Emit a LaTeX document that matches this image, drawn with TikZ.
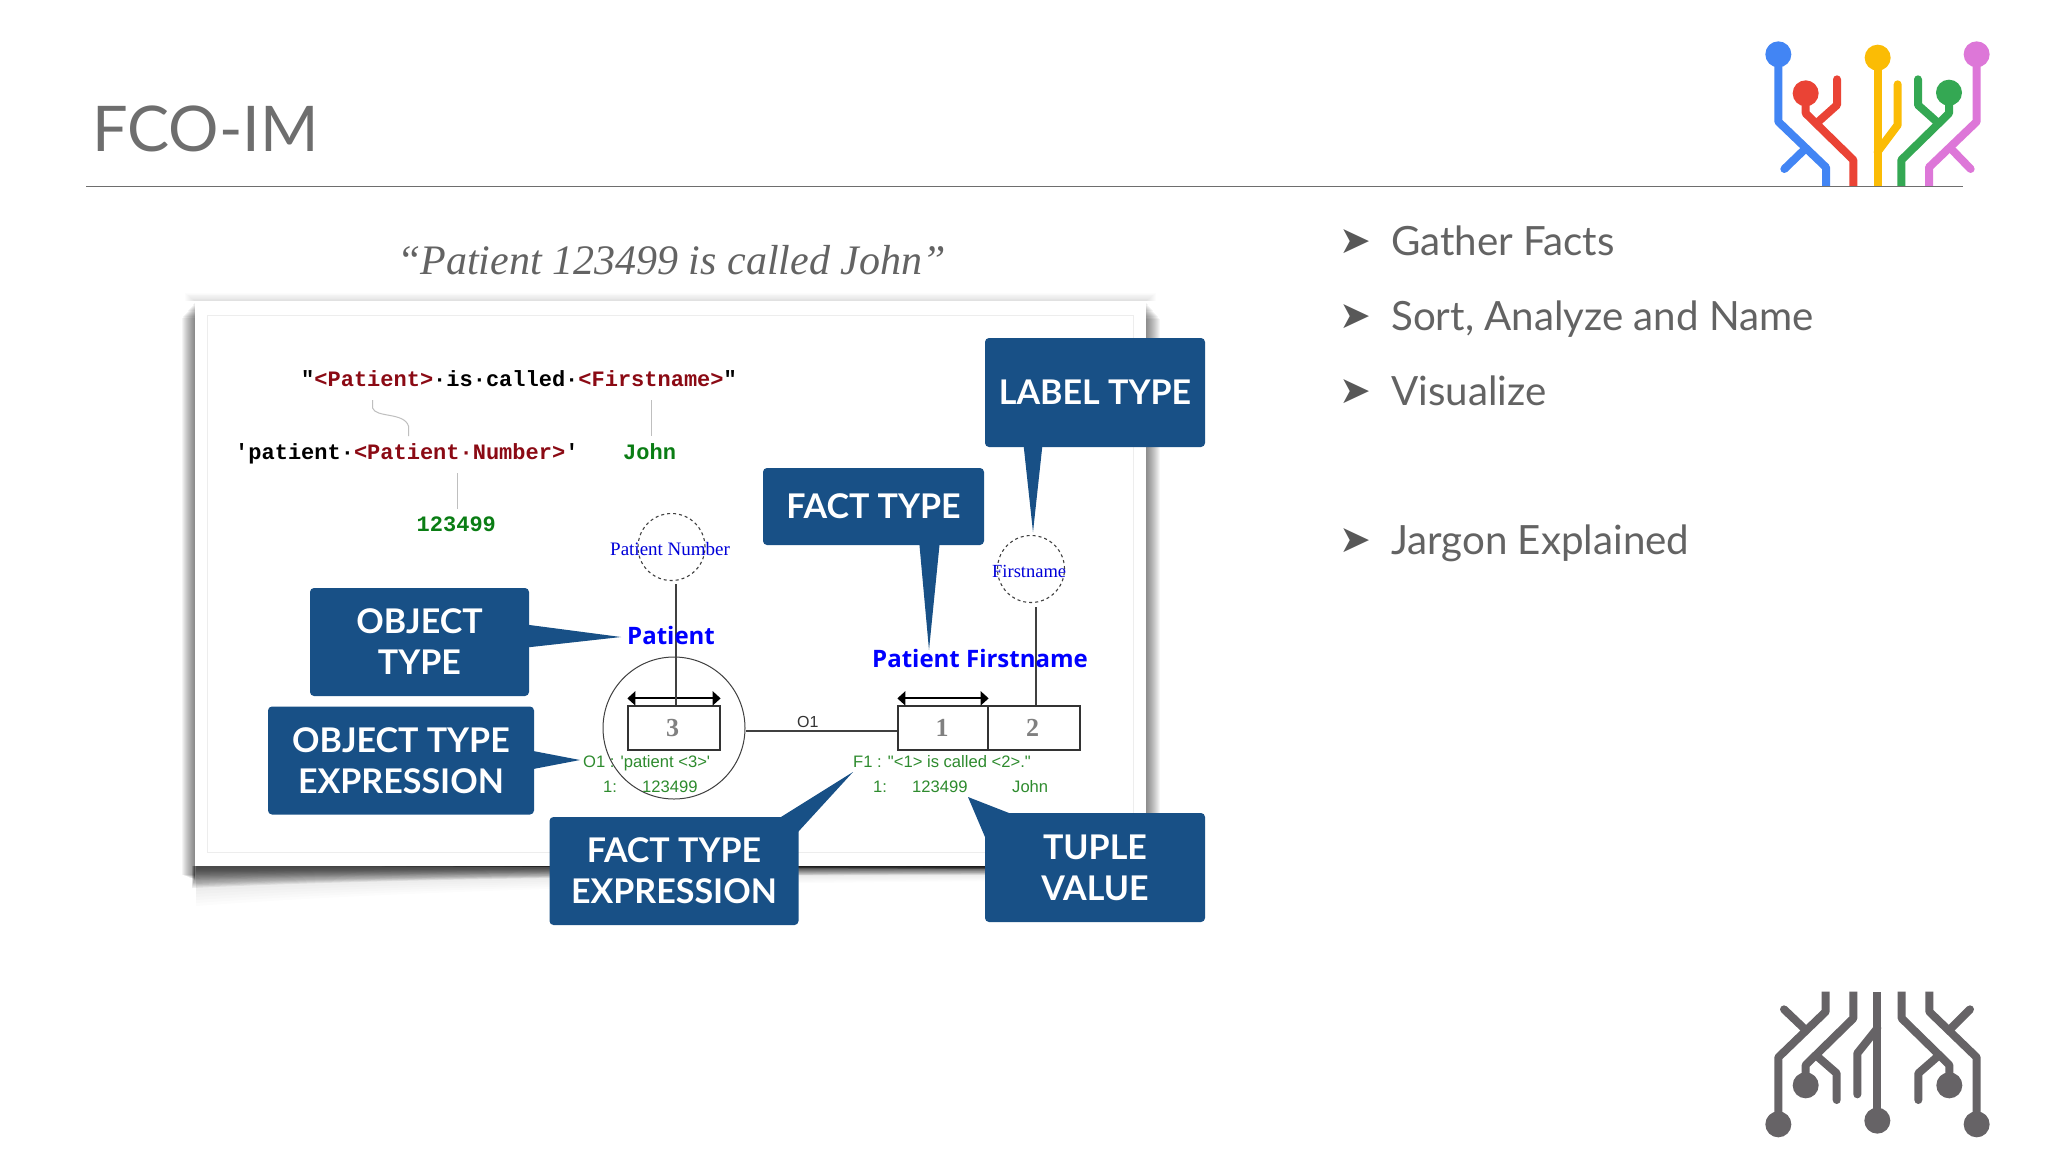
\documentclass[tikz,border=0pt]{standalone}
\usepackage{fontspec}
\usepackage{xcolor}
\usetikzlibrary{calc,arrows.meta}
\setmainfont{Lato}
\newfontfamily\codefont{Liberation Mono}
\newfontfamily\timesfont{Liberation Serif}
\newfontfamily\arialfont{Liberation Sans}
\newfontfamily\boldsans{Open Sans}
\newfontfamily\symbfont{DejaVu Sans}
\newcommand{\fsz}[1]{\fontsize{#1}{#1}\selectfont}
\definecolor{calloutblue}{HTML}{185086}
\definecolor{slidegray}{HTML}{6E6E6E}
\definecolor{bodygray}{HTML}{636363}
\definecolor{codered}{HTML}{8B0A14}
\definecolor{codegreen}{HTML}{0A7D14}
\definecolor{smallgreen}{HTML}{2E8B2E}
\definecolor{logoblue}{HTML}{4285F4}
\definecolor{logored}{HTML}{EA4335}
\definecolor{logoyellow}{HTML}{FBBC05}
\definecolor{logogreen}{HTML}{34A853}
\definecolor{logopink}{HTML}{DD77D8}
\definecolor{logogray}{HTML}{666366}
\tikzset{
		>=Stealth,
		txt/.style={inner sep=0pt,anchor=base west},
		bullet/.style={txt,font=\symbfont\fsz{38},text=slidegray!80!black},
		item/.style={txt,font=\fsz{40.3},text=bodygray},
		code/.style={txt,font=\codefont\bfseries\fsz{22}},
		small/.style={txt,font=\arialfont\fsz{16.6},text=smallgreen},
		typename/.style={txt,font=\boldsans\bfseries\fsz{24},text=blue},
		labelname/.style={txt,font=\timesfont\fsz{19},text=blue!85!black},
		callout/.style={fill=calloutblue,rounded corners=4pt,text=white,inner sep=0pt,align=center,font=\bfseries\fsz{34}},
		rolebox/.style={draw=black!80,line width=1.3pt,inner sep=0pt,minimum width=#1,minimum height=44pt,font=\timesfont\bfseries\fsz{26},text=gray},
		rolebar/.style={draw=black,line width=1.8pt,{Triangle[length=8pt,width=14pt]}-{Triangle[length=8pt,width=14pt]}},
		hair/.style={draw=black!25,line width=1pt},
		stem/.style={draw=black!75,line width=1.3pt},
		valuering/.style={circle,draw=black!75,dashed,line width=1.1pt,inner sep=0pt,minimum size=67pt},
		trace/.style={line width=8pt,line join=round}
	}
\begin{document}
\begin{tikzpicture}[x=1pt,y=-1pt]
          \useasboundingbox (0,0) rectangle (2048,1152);
          \fill[white] (0,0) rectangle (2048,1152);

          % heading
          \node[txt,font=\fsz{63},text=slidegray] (title) at (92,151) {FCO-IM};
          \coordinate (ruleL) at (86,186.5);
          \coordinate (ruleR) at (1963,186.5);
          \draw[slidegray,line width=1.2pt] (ruleL) -- (ruleR);

          % bullets on the right
          \foreach \name/\y/\t in {a/255/Gather Facts,b/330/{Sort, Analyze and Name},c/405/Visualize,d/554/Jargon Explained}{
            \node[bullet] (b\name) at (1339,\y-2) {➤};
            \node[item] (i\name) at (1391,\y) {\t};
          }

          \node[txt,font=\timesfont\itshape\fsz{42},text=bodygray] (quote) at (397,274) {“Patient 123499 is called John”};

          % shadow of the sheet
          \foreach \d in {1,...,13}
            \fill[black,opacity=.045] (195-\d,302+1.2*\d) rectangle (195,880-.4*\d);
          \foreach \d in {1,...,14}
            \fill[black,opacity=.04] (1146,302+1.2*\d) rectangle (1146+\d,872-.3*\d);
          \foreach \d in {1,...,10}
            \fill[black,opacity=.012] (195-\d,301-.8*\d) rectangle (1146+\d,301);
          \foreach \d in {0,...,15}
            \fill[black,opacity=.065] (192+.3*\d,866) -- (192+.3*\d,888-1.3*\d) .. controls (420,877-.6*\d) and (800,874-.5*\d) .. (1153-.4*\d,875-.6*\d) -- (1146,866) -- cycle;
          \foreach \d in {1,...,6}
            \fill[black,opacity=.012] (196,866) -- (196,888+3*\d) .. controls (420,877+2*\d) and (800,874+\d) .. (1153,875+\d) -- (1146,866) -- cycle;
          \foreach \d in {1,...,4}
            \fill[black,opacity=.22] (200+40*\d,866) -- (1146,866) -- (1146,866+\d) -- (200+40*\d,866) -- cycle;
          \fill[white] (195,301) rectangle (1146,866);
          \draw[black!7,line width=1pt] (207,315) rectangle (1133,852);

          % the text part
          \node[code] (expr) at (301,386) {"\textcolor{codered}{<Patient>}·is·called·\textcolor{codered}{<Firstname>}"};
          \node[code] (ote) at (235,459) {'patient·\textcolor{codered}{<Patient·Number>}'};
          \node[code,text=codegreen] (john) at (623,459) {John};
          \node[code,text=codegreen] (number) at (416.5,531) {123499};

          \coordinate (p1) at (372.5,400);
          \coordinate (p2) at (408.5,436);
          \coordinate (f1) at (651,400);
          \coordinate (f2) at (651,436);
          \coordinate (n1) at (457.5,473);
          \coordinate (n2) at (457.5,509);
          \draw[hair] (p1) -- (372.5,408) .. controls (376,418) and (404,412) .. (408.5,426) -- (p2);
          \draw[hair] (f1) -- (f2);
          \draw[hair] (n1) -- (n2);

          % the fact type
          \node[circle,draw=black!75,line width=1pt,minimum size=142pt,inner sep=0pt] (objcircle) at (674,728) {};
          \node[rolebox=92pt] (role3) at (674,728) {\kern-3pt 3};
          \node[rolebox=90pt] (role1) at (943,728) {\kern-2pt 1};
          \node[rolebox=92pt] (role2) at (1034,728) {\kern-3pt 2};
          \node[valuering] (pnr) at (671.5,547) {};
          \node[valuering] (fnm) at (1031,569) {};

          \draw[rolebar] ($(role3.north west)+(0,-7)$) -- ($(role3.north east)+(0,-7)$);
          \draw[rolebar] ($(role1.north west)+(0,-7)$) -- ($(role1.north east)+(0,-7)$);
          \draw[stem] (676,584) -- (role3.north -| 676,0);
          \draw[stem] (1036,607) -- (role2.north -| 1036,0);
          \draw[stem] (objcircle.east |- 0,731) -- (role1.west |- 0,731);

          \node[labelname] (pnrtext) at (610,555) {Patient Number};
          \node[labelname,font=\timesfont\fsz{18.5}] (fnmtext) at (992,577) {Firstname};
          \node[typename] (pat) at (627,644) {Patient};
          \node[typename] (patf) at (872,667) {Patient Firstname};
          \node[txt,font=\arialfont\fsz{16},text=black!80] (o1) at (797,727) {O1};

          \node[small] (o1exp) at (583,767) {O1 : 'patient <3>'};
          \node[small] (o1a) at (603,792) {1:};
          \node[small] (o1b) at (642,792) {123499};
          \node[small] (f1exp) at (853,767) {F1 : "<1> is called <2>."};
          \node[small] (f1a) at (873,792) {1:};
          \node[small] (f1b) at (912,792) {123499};
          \node[small] (f1c) at (1012,792) {John};

          % callouts
          \fill[calloutblue] (1023,440) -- (1033,532) -- (1043,440) -- cycle;
          \fill[calloutblue] (919,540) -- (929,650) -- (940,540) -- cycle;
          \fill[calloutblue] (522,624) -- (621,637) -- (522,648) -- cycle;
          \fill[calloutblue] (528,750) -- (580,760) -- (528,770) -- cycle;
          \fill[calloutblue] (781,825) -- (781,817) -- (853,772) -- (798,832) -- (790,840) -- cycle;
          \fill[calloutblue] (1009,813) -- (968,797) -- (985,837) -- (995,840) -- (1015,825) -- cycle;
          \node[callout,minimum width=220pt,minimum height=109pt] (label) at (1095,392.5) {LABEL TYPE};
          \node[callout,minimum width=221pt,minimum height=77pt] (fact) at (873.5,506.5) {FACT TYPE};
          \node[callout,minimum width=219pt,minimum height=108pt] (object) at (419.5,642) {OBJECT\\[7pt]TYPE};
          \node[callout,minimum width=266pt,minimum height=108pt] (objexp) at (401,760.5) {OBJECT TYPE\\[7pt]EXPRESSION};
          \node[callout,minimum width=249pt,minimum height=108pt] (factexp) at (674,871) {FACT TYPE\\[7pt]EXPRESSION};
          \node[callout,minimum width=220pt,minimum height=109pt] (tuple) at (1095,867.5) {TUPLE\\[7pt]VALUE};

          % coloured logo
          \begin{scope}[shift={(1740,20)},x=.3333pt,y=-.3333pt]
          \foreach \col/\cx/\cy/\main/\twig in {
              logoblue/115/103/{(115,103) -- (115,305) -- (258,442) -- (258,498)}/{(192,390) -- (133,447)},
              logored/197/220/{(197,220) -- (197,280) -- (340,420) -- (340,498)}/{(235,305) -- (291,255) -- (291,178)},
              logoyellow/413/113/{(413,113) -- (413,498)}/{(413,395) -- (473,315) -- (473,193)},
              logogreen/627/218/{(627,218) -- (627,280) -- (484,420) -- (484,498)}/{(590,305) -- (534,255) -- (534,178)},
              logopink/710/103/{(710,103) -- (710,305) -- (567,442) -- (567,498)}/{(632,385) -- (692,447)}}{
            \draw[trace,\col] \main;
            \draw[trace,\col,line cap=round] \twig;
            \fill[\col] (\cx,\cy) circle [radius=39];
          }
          \end{scope}

          % gray logo
          \begin{scope}[shift={(1760,970)},x=.3333pt,y=-.3333pt]
          \foreach \cx/\cy/\main/\twig in {
              55/463/{(55,463) -- (55,262) -- (197,125) -- (197,65)}/{(135,178) -- (72,118)},
              137/346/{(137,346) -- (137,285) -- (280,145) -- (280,65)}/{(175,262) -- (230,310) -- (230,390)},
              352/452/{(352,452) -- (352,65)}/{(352,175) -- (292,250) -- (292,373)},
              568/346/{(568,346) -- (568,285) -- (425,145) -- (425,65)}/{(530,262) -- (475,310) -- (475,390)},
              650/463/{(650,463) -- (650,262) -- (508,125) -- (508,65)}/{(570,178) -- (630,118)}}{
            \draw[trace,logogray] \main;
            \draw[trace,logogray,line cap=round] \twig;
            \fill[logogray] (\cx,\cy) circle [radius=39];
          }
          \end{scope}

\end{tikzpicture}
\end{document}
